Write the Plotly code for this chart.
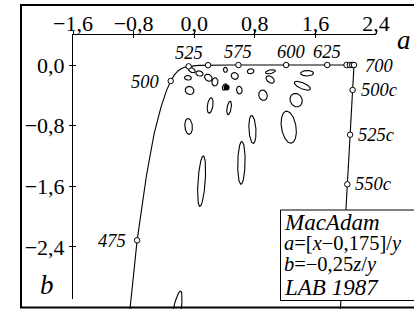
import numpy as np
import plotly.graph_objects as go

# ---------------- data ----------------
# spectral locus in (a, b) chart coordinates, wavelength in nm
locus_nm = [460, 465, 470, 475, 480, 485, 490, 495, 500, 505, 510, 515, 520, 525, 530,
            535, 540, 545, 550, 555, 560, 570, 575, 580, 590, 600, 610, 620, 625, 630,
            640, 650, 660, 675, 680, 700]
locus_a = [-1.0438, -0.9900, -0.8806, -0.7535, -0.6308, -0.5296, -0.4393, -0.3671, -0.3098,
           -0.2613, -0.2147, -0.1676, -0.1208, -0.0736, -0.0252, 0.0229, 0.0724, 0.1254,
           0.1829, 0.2463, 0.3172, 0.4851, 0.5840, 0.6935, 0.9434, 1.2134, 1.4695, 1.6753,
           1.7561, 1.8250, 1.9366, 2.0109, 2.0556, 2.0864, 2.0945, 2.1097]
locus_b = [-6.9554, -5.1667, -3.5385, -2.3145, -1.4620, -0.9101, -0.5590, -0.3415, -0.2105,
           -0.1303, -0.0786, -0.0459, -0.0276, -0.0180, -0.0122, -0.0082, -0.0053, -0.0034,
           -0.0022, -0.0014, -0.0010, -0.0005, -0.0005, -0.0005, -0.0004, -0.0003, -0.0002,
           -0.0001, -0.0001, -0.0001, 0.0, 0.0, 0.0, 0.0, 0.0, 0.0]
marked_nm = [475, 500, 525, 550, 575, 600, 625, 650, 660, 675, 700]

# purple line (700 nm to 380 nm) and complementary-wavelength marks
purple_a = [2.1097, -0.1800]
purple_b = [0.0, -41.05]
comp_labels = ["500c", "525c", "550c"]
comp_a = [2.0913, 2.0584, 2.0218]
comp_b = [-0.330, -0.920, -1.575]

# white point
white_a = [0.4272]
white_b = [-0.2955]

# MacAdam (1942) ellipses: centre (x, y), semi-axes (1e-3), angle (deg); drawn 10x
mac_x = [0.160, 0.187, 0.253, 0.150, 0.131, 0.212, 0.258, 0.152, 0.280, 0.380, 0.160, 0.228, 0.305,
         0.385, 0.472, 0.527, 0.475, 0.510, 0.596, 0.344, 0.390, 0.441, 0.278, 0.300, 0.365]
mac_y = [0.057, 0.118, 0.125, 0.680, 0.521, 0.550, 0.450, 0.365, 0.385, 0.498, 0.200, 0.250, 0.323,
         0.393, 0.399, 0.350, 0.300, 0.236, 0.283, 0.284, 0.237, 0.198, 0.223, 0.163, 0.153]
mac_A = [0.85, 2.2, 2.5, 9.6, 4.7, 5.8, 5.0, 3.8, 4.0, 4.4, 2.1, 3.1, 2.3, 3.8, 3.2, 2.6, 2.9, 2.4,
         2.6, 2.3, 2.5, 2.8, 2.4, 2.9, 3.6]
mac_B = [0.35, 0.55, 0.5, 2.3, 2.0, 2.3, 2.0, 1.9, 1.5, 1.2, 0.95, 0.9, 0.9, 1.6, 1.4, 1.3, 1.1, 1.2,
         1.3, 0.9, 1.0, 0.95, 0.55, 0.6, 0.95]
mac_theta = [62.5, 77, 55.5, 105, 112.5, 100, 92, 110, 75.5, 70, 104, 72, 58, 65.5, 51, 20, 53, 57.5,
             25.5, 60, 47, 34.5, 57.5, 54, 40]
mac_mag = 10

x_ticks = [-1.6, -0.8, 0.0, 0.8, 1.6, 2.4]
x_ticktext = ["\u22121,6", "\u22120,8", "0,0", "0,8", "1,6", "2,4"]
y_ticks = [0.0, -0.8, -1.6, -2.4]
y_ticktext = ["0,0", "\u22120,8", "\u22121,6", "\u22122,4"]

# ---------------- layout geometry ----------------
W, H = 414, 309
S = 75.75            # px per unit
PX0, PY0 = 73, 65    # pixel of a=-1.6 and of b=0
FONT = "Liberation Serif"


def ax(px):
    return -1.6 + (px - PX0) / S


def by(py):
    return -(py - PY0) / S


# ellipse outlines transformed into (a, b)
ea, eb = [], []
t = np.linspace(0, 2 * np.pi, 181)
for xc, yc, A, B, th in zip(mac_x, mac_y, mac_A, mac_B, mac_theta):
    c, s = np.cos(np.radians(th)), np.sin(np.radians(th))
    u = A * 1e-3 * mac_mag * np.cos(t)
    v = B * 1e-3 * mac_mag * np.sin(t)
    x = xc + u * c - v * s
    y = yc + u * s + v * c
    ea += list((x - 0.175) / y) + [None]
    eb += list(-0.25 * (1 - x - y) / y) + [None]

idx = [locus_nm.index(n) for n in marked_nm]
mk_a = [locus_a[i] for i in idx]
mk_b = [locus_b[i] for i in idx]

fig = go.Figure()
fig.add_trace(go.Scatter(x=ea, y=eb, mode="lines", line=dict(color="black", width=1.1),
                         hoverinfo="skip"))
fig.add_trace(go.Scatter(x=locus_a, y=locus_b, mode="lines", line=dict(color="black", width=1.1),
                         hoverinfo="skip"))
fig.add_trace(go.Scatter(x=purple_a, y=purple_b, mode="lines", line=dict(color="black", width=1.1),
                         hoverinfo="skip"))
fig.add_trace(go.Scatter(x=white_a, y=white_b, mode="markers",
                         marker=dict(size=6, color="black", line=dict(width=0)), hoverinfo="skip"))
fig.add_trace(go.Scatter(x=mk_a + comp_a, y=mk_b + comp_b, mode="markers",
                         marker=dict(size=5.5, color="white", line=dict(color="black", width=1)),
                         hoverinfo="skip"))
# tick axes
fig.add_trace(go.Scatter(x=[None], y=[None], xaxis="x2", yaxis="y2", showlegend=False))
fig.add_trace(go.Scatter(x=[None], y=[None], xaxis="x3", yaxis="y3", showlegend=False))

lab_font = dict(family=FONT, size=18.5, color="black")
ann = []
above = {525: 0, 575: 0, 600: 5, 625: 0}
for n, dx in above.items():
    i = locus_nm.index(n)
    ann.append(dict(x=locus_a[i], y=locus_b[i], xref="x", yref="y", text=f"<i>{n}</i>",
                    showarrow=False, xanchor="center", yanchor="middle", xshift=dx, yshift=13,
                    font=lab_font))
for n, dx, anc in [(700, 9, "left"), (500, -9, "right"), (475, -9, "right")]:
    i = locus_nm.index(n)
    ann.append(dict(x=locus_a[i], y=locus_b[i], xref="x", yref="y", text=f"<i>{n}</i>",
                    showarrow=False, xanchor=anc, yanchor="middle", xshift=dx, yshift=-1,
                    font=lab_font))
for lab, a_, b_ in zip(comp_labels, comp_a, comp_b):
    ann.append(dict(x=a_, y=b_, xref="x", yref="y", text=f"<i>{lab}</i>", showarrow=False,
                    xanchor="left", yanchor="middle", xshift=6, yshift=0, font=lab_font))

# axis titles
ann.append(dict(x=404 / W, y=1 - 40 / H, xref="paper", yref="paper", text="<i>a</i>",
                showarrow=False, xanchor="center", yanchor="middle",
                font=dict(family=FONT, size=27, color="black")))
ann.append(dict(x=47 / W, y=1 - 285 / H, xref="paper", yref="paper", text="<i>b</i>",
                showarrow=False, xanchor="center", yanchor="middle",
                font=dict(family=FONT, size=27, color="black")))

# legend text
leg = [("<i>MacAdam</i>", 222, 23),
       ("<i>a</i>=[<i>x</i>\u22120,175]/<i>y</i>", 243, 20.5),
       ("<i>b</i>=\u22120,25<i>z</i>/<i>y</i>", 264, 20.5),
       ("<i>LAB 1987</i>", 287, 23)]
for txt, yc, fs in leg:
    ann.append(dict(x=282 / W, y=1 - yc / H, xref="paper", yref="paper", text=txt,
                    showarrow=False, xanchor="left", yanchor="middle",
                    font=dict(family=FONT, size=fs, color="black")))

shapes = [
    dict(type="rect", xref="paper", yref="paper", x0=280.5 / W, x1=1.2, y0=1 - 300.5 / H,
         y1=1 - 210 / H, line=dict(color="black", width=1), fillcolor="white", layer="above"),
    dict(type="rect", xref="paper", yref="paper", x0=21 / W, x1=1.2, y0=1 - 307.5 / H,
         y1=1 - 5 / H, line=dict(color="black", width=2), fillcolor="rgba(0,0,0,0)",
         layer="above"),
]

tickfont = dict(family=FONT, size=22, color="black")
xdom = [PX0 / W, 376 / W]
ydom = [1 - 299 / H, 1 - 35 / H]
xr = [-1.6, 2.4]
yr = [by(299), by(35)]

fig.update_layout(
    width=W, height=H, margin=dict(l=0, r=0, t=0, b=0, pad=0, autoexpand=False),
    paper_bgcolor="white", plot_bgcolor="rgba(0,0,0,0)", showlegend=False,
    xaxis=dict(domain=[0, 1], range=[ax(0), ax(W)], visible=False, fixedrange=True),
    yaxis=dict(domain=[0, 1], range=[by(H), by(0)], visible=False, fixedrange=True),
    xaxis2=dict(domain=xdom, range=xr, anchor="y2", side="top", showline=True,
                linecolor="black", linewidth=1, ticks="outside", ticklen=3, tickwidth=1,
                tickcolor="black", tickvals=x_ticks, ticktext=x_ticktext, tickfont=tickfont,
                ticklabelstandoff=-9,
                showgrid=False, zeroline=False, fixedrange=True, automargin=False),
    yaxis2=dict(domain=ydom, range=yr, anchor="x2", side="left", showline=True,
                linecolor="black", linewidth=1, ticks="outside", ticklen=3, tickwidth=1,
                tickcolor="black", tickvals=y_ticks, ticktext=y_ticktext, tickfont=tickfont,
                showgrid=False, zeroline=False, fixedrange=True, automargin=False),
    xaxis3=dict(overlaying="x2", range=xr, anchor="y3", side="top", showline=False,
                ticks="inside", ticklen=3, tickwidth=1, tickcolor="black", tickvals=x_ticks,
                showticklabels=False, showgrid=False, zeroline=False, fixedrange=True),
    yaxis3=dict(overlaying="y2", range=yr, anchor="x3", side="left", showline=False,
                ticks="inside", ticklen=3, tickwidth=1, tickcolor="black", tickvals=y_ticks,
                showticklabels=False, showgrid=False, zeroline=False, fixedrange=True),
    annotations=ann, shapes=shapes,
)

post = ("document.documentElement.style.margin='0';document.body.style.margin='0';"
        "document.body.style.padding='0';document.body.style.overflow='hidden';"
        "document.documentElement.style.overflow='hidden';")
fig.write_html("out.html", config={"displayModeBar": False}, post_script=post)
